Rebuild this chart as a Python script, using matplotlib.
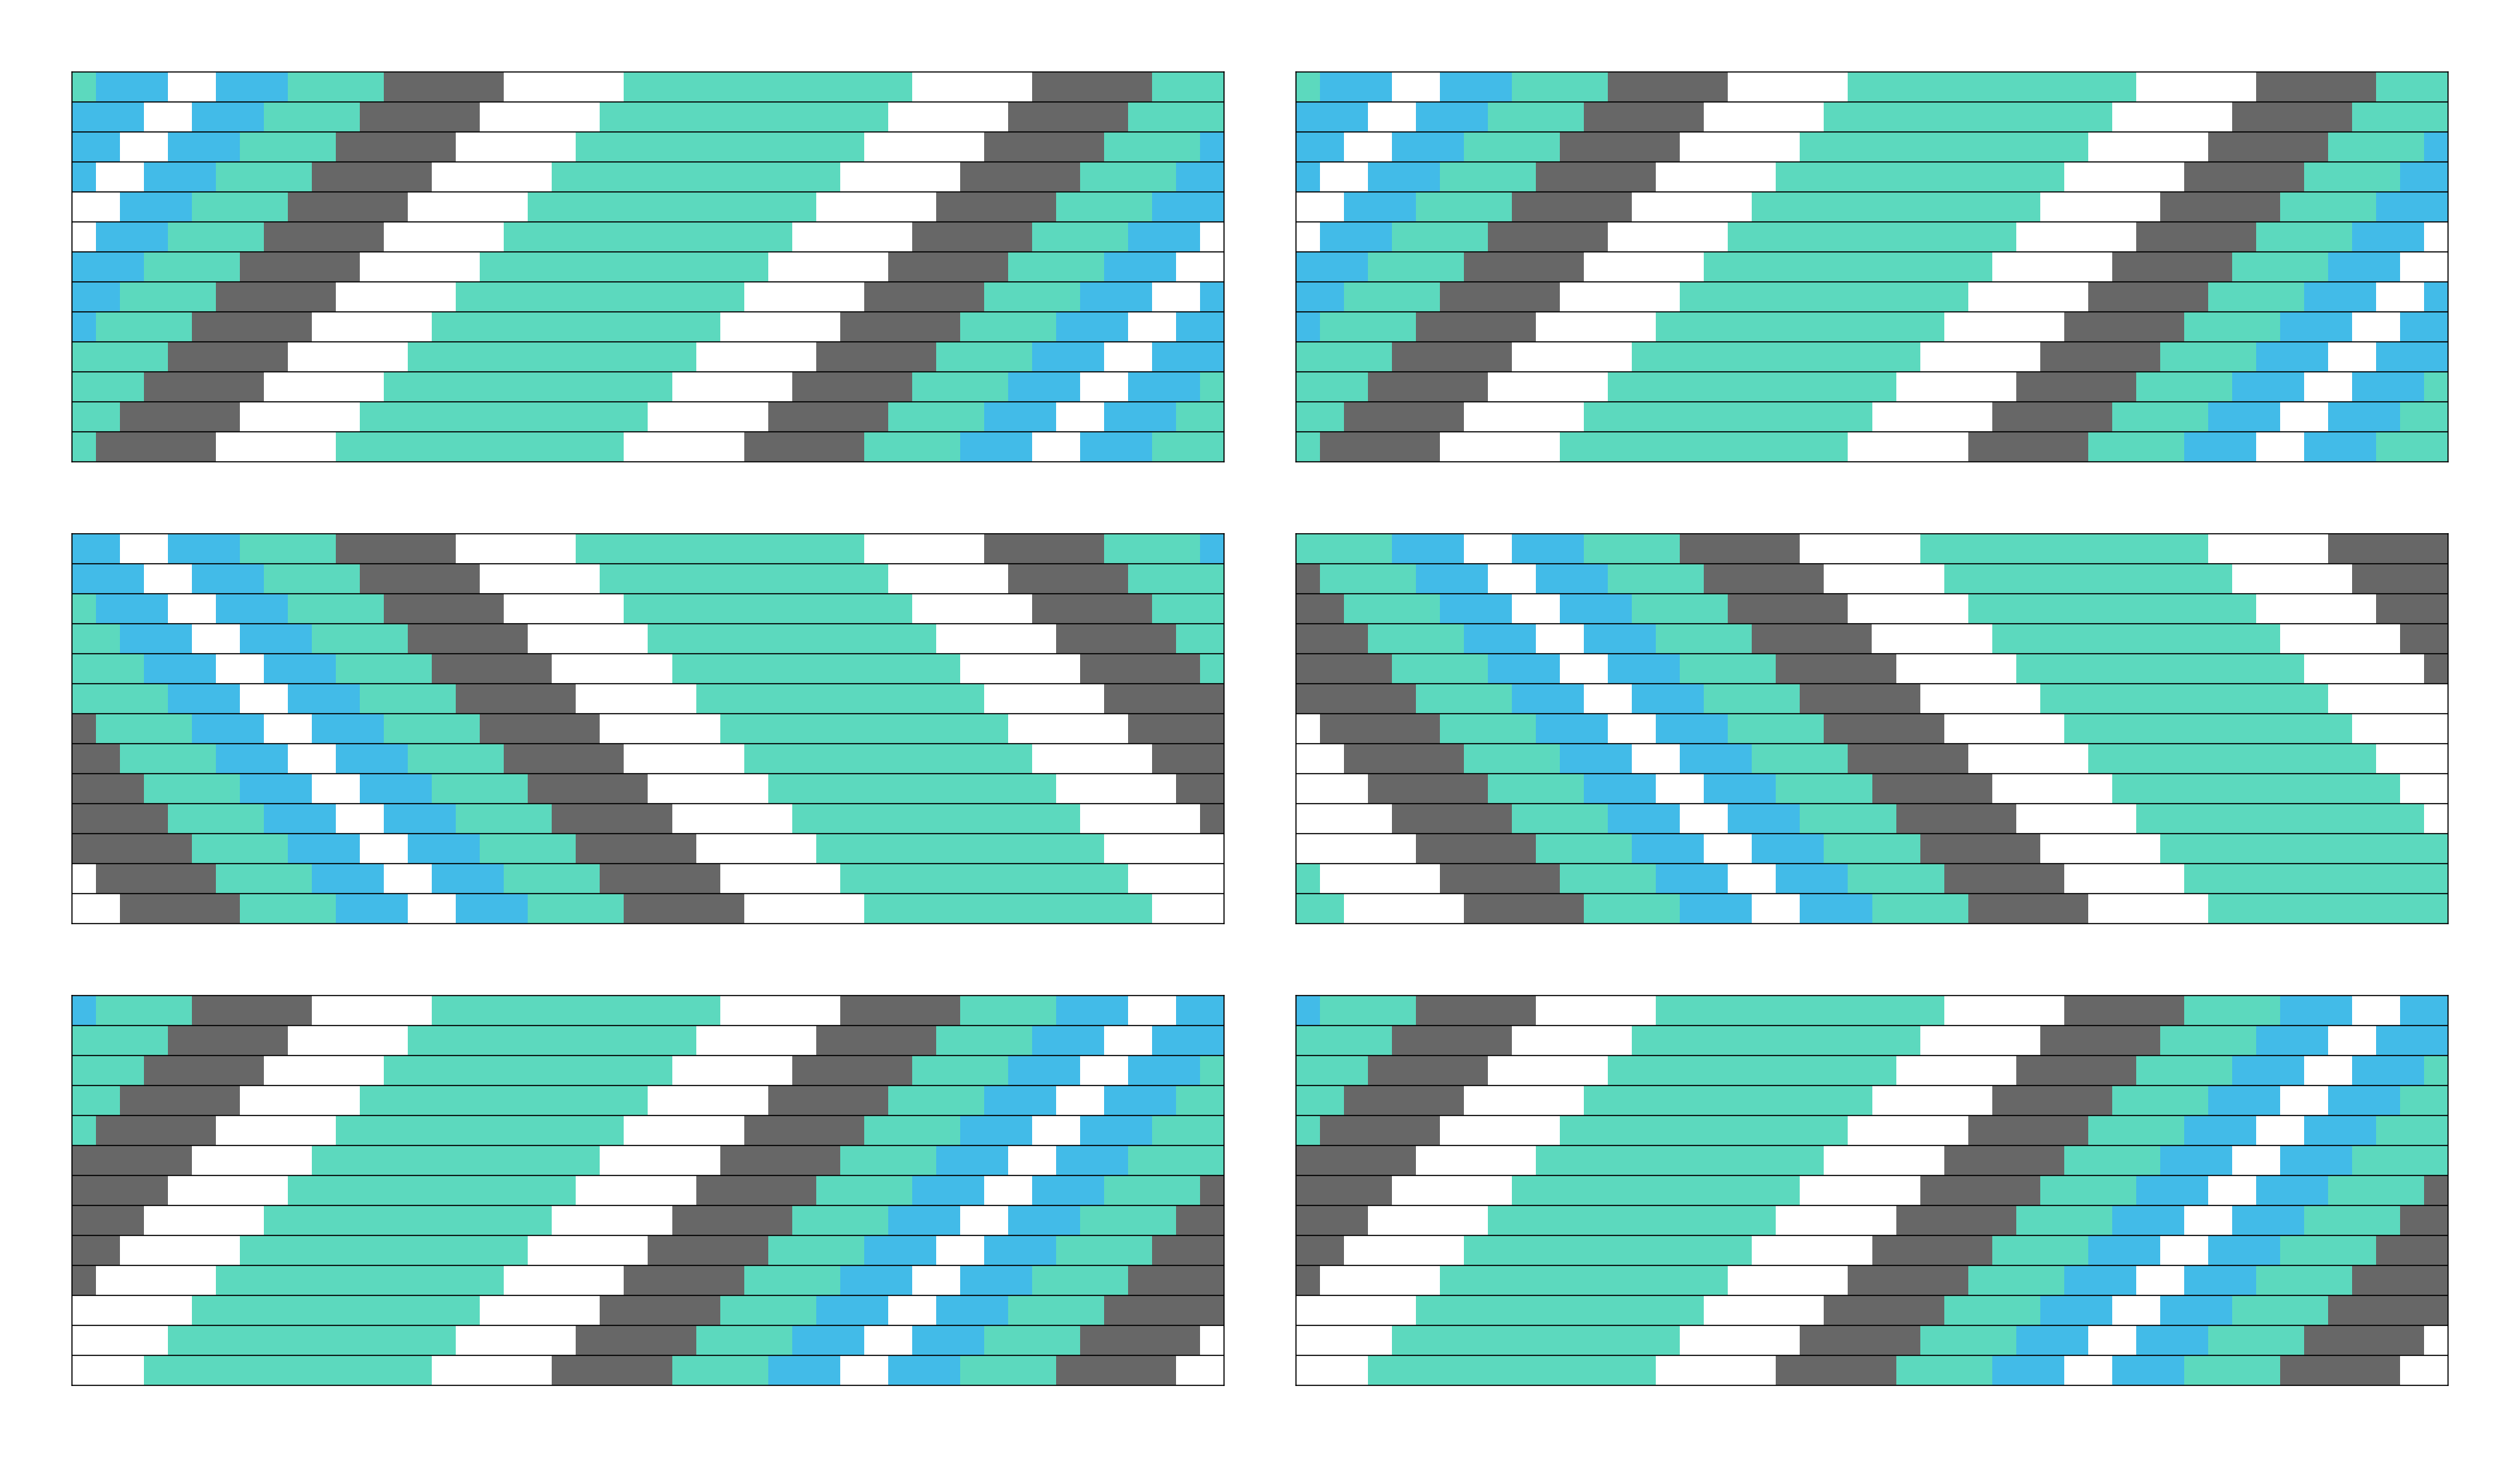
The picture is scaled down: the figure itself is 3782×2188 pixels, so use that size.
import numpy as np
import matplotlib
matplotlib.use("Agg")
from matplotlib import pyplot as plt

# rotation pattern of one cycle (48 units long)
cycle_codes = ["T", "B", "W", "B", "T", "G", "W", "T", "W", "G"]
cycle_lengths = [4, 3, 2, 3, 4, 5, 5, 12, 5, 5]
code_colors = {"T": "#5CD9BE", "B": "#42BBE8", "W": "#FFFFFF", "G": "#676767"}

n_units = 48

# phase of the cycle at the left edge of each row, top row first
phases_1 = [3, 4, 5, 6, 7, 8, 9, 10, 11, 12, 13, 14, 15]
phases_2 = [3, 4, 5, 6, 7, 8, 9, 10, 11, 12, 13, 14, 15]
phases_3 = [5, 4, 3, 2, 1, 0, 47, 46, 45, 44, 43, 42, 41]
phases_4 = [0, 47, 46, 45, 44, 43, 42, 41, 40, 39, 38, 37, 36]
phases_5 = [11, 12, 13, 14, 15, 16, 17, 18, 19, 20, 21, 22, 23]
phases_6 = [11, 12, 13, 14, 15, 16, 17, 18, 19, 20, 21, 22, 23]
panel_phases = [phases_1, phases_2, phases_3, phases_4, phases_5, phases_6]


def row_segments(phase):
    # cut one window of n_units out of the repeated cycle
    starts = np.concatenate([[0], np.cumsum(cycle_lengths)[:-1]])
    segs = []
    for rep in range(2):
        for code, s, l in zip(cycle_codes, starts, cycle_lengths):
            a = s + rep * n_units - phase
            b = a + l
            a, b = max(a, 0), min(b, n_units)
            if b > a:
                segs.append((a, b - a, code))
    return segs


W, H = 3782, 2188
fig = plt.figure(figsize=(W / 100, H / 100), dpi=100)
m = 108
aw, ah = 1729, 585
lw = 1.2

for k, phases in enumerate(panel_phases):
    r, c = k // 2, k % 2
    left = (m + c * (aw + m)) / W
    bottom = 1 - (m + r * (ah + m) + ah) / H
    ax = fig.add_axes([left, bottom, aw / W, ah / H])
    n_rows = len(phases)
    for i, p in enumerate(phases):
        y = n_rows - 1 - i
        for a, w, code in row_segments(p):
            ax.barh(y, w, left=a, height=1, align="edge",
                    color=code_colors[code], linewidth=0)
    ax.hlines(np.arange(1, n_rows), 0, n_units, colors="black", linewidth=lw)
    ax.set_xlim(0, n_units)
    ax.set_ylim(0, n_rows)
    ax.set_xticks([])
    ax.set_yticks([])
    for s in ax.spines.values():
        s.set_linewidth(lw)
        s.set_color("black")

fig.savefig("out.png", dpi=100)
